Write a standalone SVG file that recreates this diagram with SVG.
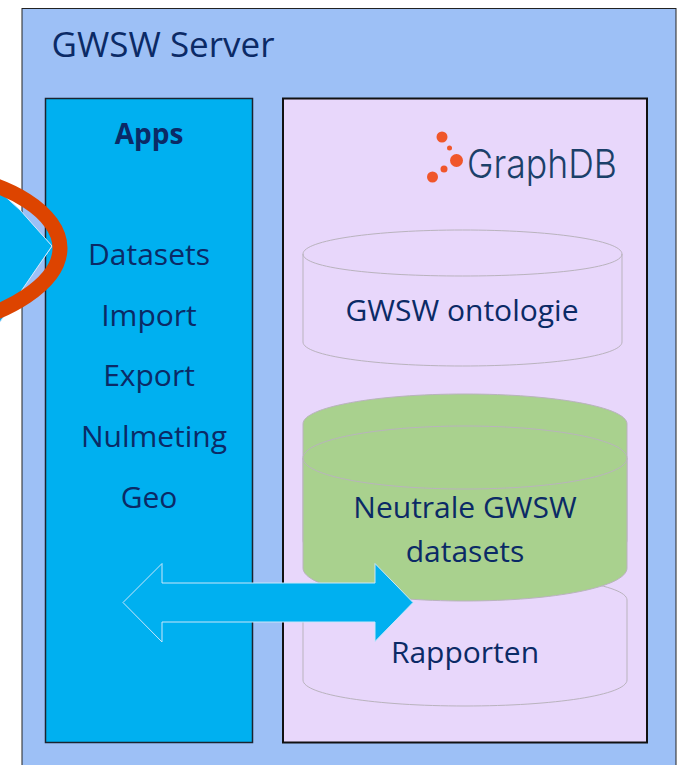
<svg xmlns="http://www.w3.org/2000/svg" width="677" height="765" viewBox="0 0 677 765">
<defs>
<style>
text{font-family:"Open Sans","Noto Sans","Liberation Sans",sans-serif;fill:#0b2a66;text-anchor:middle}
.a{font-size:30px}
.c{font-size:30px}
.body{stroke:#b9b3bd;stroke-width:1;fill:#e8d7fb}
.g{stroke:#b9b3bd;stroke-width:1;fill:#a9d18e}
.dot{fill:#f0562a}
</style>
</defs>
<rect width="677" height="765" fill="#fff"/>
<g id="server"><rect x="22" y="8.500" width="654" height="757" fill="#9dc0f6" stroke="#222" stroke-width="1"/>
<text x="163" y="57" style="font-size:35px">GWSW Server</text></g>
<g id="apps"><rect x="45.500" y="98.500" width="207" height="644" fill="#00b0f0" stroke="#1a2430" stroke-width="1.500"/>
<text x="149" y="144" style="font-size:28px;font-weight:700">Apps</text>
<text x="149" y="265" class="a">Datasets</text>
<text x="149" y="326" class="a">Import</text>
<text x="149" y="386" class="a">Export</text>
<text x="154" y="447" class="a">Nulmeting</text>
<text x="149" y="508" class="a">Geo</text></g>
<g id="graphdb"><rect x="283" y="98.500" width="364" height="644" fill="#e8d7fb" stroke="#111" stroke-width="2"/>
<circle class="dot" cx="442" cy="137" r="5.500"/><circle class="dot" cx="449.500" cy="148" r="2.500"/><circle class="dot" cx="456.500" cy="160.500" r="6.500"/><circle class="dot" cx="444" cy="169" r="3.500"/><circle class="dot" cx="432.500" cy="177" r="5.500"/>
<text x="542" y="178" style="font-family:'Inter','Liberation Sans',sans-serif;font-size:40px;fill:#1b4069;font-weight:300" textLength="150" lengthAdjust="spacingAndGlyphs">GraphDB</text></g>
<g id="rapporten"><path class="body" d="M303 600V680C303 695 376 706 465 706S627 695 627 680V600C627 585 554 574 465 574S303 585 303 600Z"/>
<text x="465" y="663" class="c">Rapporten</text></g>
<g id="ontologie"><path class="body" d="M303 254V342C303 356 376 366 462.500 366S622 356 622 342V254C622 240 549 230 462.500 230S303 240 303 254ZM303 254C303 268 376 276 462.500 276S622 268 622 254"/>
<text x="462" y="321" class="c">GWSW ontologie</text></g>
<g id="neutraal-achter"><path class="g" d="M303 424V540C303 560 376 576 465 576S627 560 627 540V424C627 407 554 394 465 394S303 407 303 424Z"/></g>
<g id="neutraal"><path class="g" d="M303 458V568C303 587 376 601 465 601S627 587 627 568V458C627 440 554 426 465 426S303 440 303 458ZM303 458C303 476 376 489 465 489S627 476 627 458"/>
<text x="465" y="518" class="c">Neutrale GWSW</text><text x="465" y="562" class="c">datasets</text></g>
<g id="connectors">
<path d="M-2 190L52 246L-2 324Z" fill="#9dc0f6" stroke="#cfe6fb" stroke-width="1"/>
<path d="M-2 190L20 210L52 246L0 322H-2Z" fill="#00b0f0" stroke="#d5e7fb" stroke-width="1"/>
<path d="M-60 174C10 180 60 214 60 248C60 282 10 316 -60 328" fill="none" stroke="#dd4400" stroke-width="15"/>
<path d="M123 602.500L162 563.500V583H375V563.500L413 602.500L375 641.500V622H162V642Z" fill="#00b0f0" stroke="#c9e6fa" stroke-width="1"/>
</g>
</svg>
